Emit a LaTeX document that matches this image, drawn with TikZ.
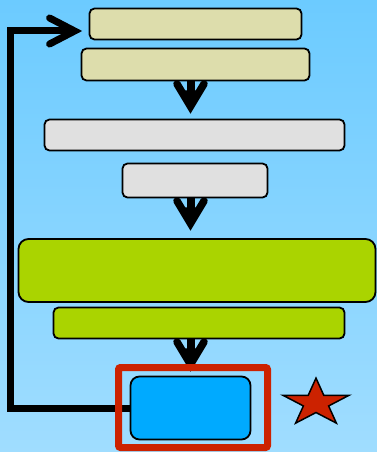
\documentclass[tikz,border=0pt]{standalone}
\usetikzlibrary{calc,backgrounds}
\definecolor{bgtop}{RGB}{108,203,255}
\definecolor{bgbot}{RGB}{160,221,255}
\definecolor{khaki}{RGB}{221,221,172}
\definecolor{lgray}{RGB}{224,224,224}
\definecolor{lgreen}{RGB}{170,212,0}
\definecolor{sblue}{RGB}{0,170,255}
\definecolor{fred}{RGB}{204,34,0}
\tikzset{
  box/.style={draw=black, line width=1.8pt, rounded corners=5pt, inner sep=0pt, anchor=center},
  bigbox/.style={box, rounded corners=10pt},
  fbline/.style={line width=7pt, line join=miter},
  fbhead/.style={line width=7pt, line cap=round, line join=miter},
  darrow/.pic={
    \fill (-4,0) rectangle (4,12);
    \fill (-8,9) -- (8,9) -- (0,25) -- cycle;
    \draw[line width=7.5pt, line cap=round, line join=miter] (-13.5,2.5) -- (0,25) -- (13.5,2.5);
  }
}
\begin{document}
\begin{tikzpicture}[x={(1pt,0)}, y={(0,-1pt)}]
\useasboundingbox (0,0) rectangle (377,452);

% nodes
\node[box, fill=khaki, minimum width=212pt, minimum height=31pt] (b1) at (195.5,24) {};
\node[box, fill=khaki, minimum width=228pt, minimum height=32pt] (b2) at (195.5,64.5) {};
\node[box, fill=lgray, minimum width=300pt, minimum height=31pt] (g1) at (194.5,135) {};
\node[box, fill=lgray, minimum width=145pt, minimum height=34pt] (g2) at (195,180.5) {};
\node[bigbox, fill=lgreen, minimum width=357pt, minimum height=63pt] (gr1) at (197,270.5) {};
\node[box, fill=lgreen, minimum width=291pt, minimum height=31pt] (gr2) at (199,323) {};
\node[bigbox, rounded corners=9pt, fill=sblue, minimum width=120pt, minimum height=63pt] (blue) at (190.5,408) {};

% background and feedback connector
\begin{scope}[on background layer]
\shade[top color=bgtop, bottom color=bgbot] (0,0) rectangle (377,452);
\coordinate (fbcorner) at (10.5,31);
\coordinate (fbtip) at ($(b1.west)+(-14,7)$);
\draw[fbline] (blue.west) -| (fbcorner) -- (fbtip);
\draw[fbhead] ($(fbtip)+(-25,-13)$) -- (fbtip) -- ($(fbtip)+(-25,13)$);
\end{scope}

% down arrows
\pic at (b2.south -| blue.north) {darrow};
\pic at (g2.south -| blue.north) {darrow};
\begin{scope}[on background layer]
\pic at (gr2.south -| blue.north) {darrow};
\end{scope}

% red frame
\node[draw=fred, line width=7pt, rounded corners=2pt, inner sep=0pt, minimum width=149pt, minimum height=80pt] (frame) at (193,407.5) {};

% star
\draw[fill=fred, line width=1.5pt, line join=miter, shift={(316,403)}, xscale=34.7, yscale=-24.9]
  (90:1) -- (126:0.382) -- (162:1) -- (198:0.382) -- (234:1) -- (270:0.382)
  -- (306:1) -- (342:0.382) -- (18:1) -- (54:0.382) -- cycle;
\end{tikzpicture}
\end{document}
